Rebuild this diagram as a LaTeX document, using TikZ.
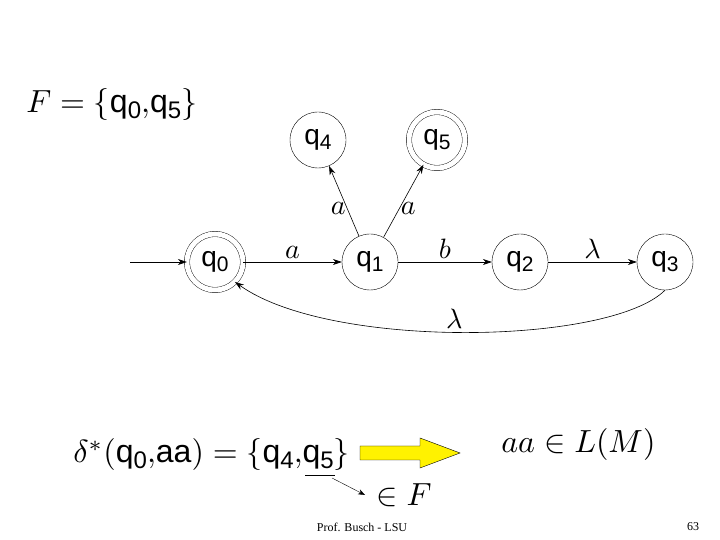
\documentclass[tikz,border=0pt]{standalone}
\usepackage{graphicx}
\usepackage{fontspec}
\setsansfont{Liberation Sans}
\setmainfont{Liberation Serif}
\usetikzlibrary{arrows.meta}
\tikzset{
  state/.style={circle,draw,minimum size=56pt,inner sep=0pt,font=\sffamily\fontsize{28}{28}\selectfont},
  accept/.style={state,double,double distance=5pt},
  trans/.style={-{Stealth[length=9pt,width=6pt]},semithick},
  big/.style={scale=3.2,transform shape}
}
\newcommand{\qs}[1]{\textsf{q}\raisebox{-0.18em}{\scalebox{0.75}{\textsf{#1}}}}
\newcommand{\lab}[1]{\scalebox{2.8}{$\mathbf{#1}$}}
\begin{document}
\begin{tikzpicture}[x=1pt,y=1pt]
  \useasboundingbox (0,0) rectangle (720,540);

  % states
  \node[accept] (q0) at (215,278) {\qs{0}};
  \node[state] (q1) at (370,278) {\qs{1}};
  \node[state] (q2) at (520,278) {\qs{2}};
  \node[state] (q3) at (665,278) {\qs{3}};
  \node[state] (q4) at (318,400) {\qs{4}};
  \node[accept] (q5) at (437,400) {\qs{5}};
  \coordinate (start) at (130,278);

  % transitions
  \draw[trans] (start) -- (q0);
  \draw[trans] (q0) -- node[above] {\scalebox{2.8}{$a$}} (q1);
  \draw[trans] (q1) -- node[above] {\scalebox{2.8}{$b$}} (q2);
  \draw[trans] (q2) -- node[above] {\scalebox{2.8}{$\lambda$}} (q3);
  \draw[trans] (q1) -- node[pos=0.4,left,inner sep=1pt] {\scalebox{2.8}{$a$}} (q4);
  \draw[trans] (q1) -- node[pos=0.4,right,inner sep=1pt] {\scalebox{2.8}{$a$}} (q5);
  \draw[trans] (q3.south) .. controls (610,195) and (330,190) .. node[pos=0.52,above] {\scalebox{2.8}{$\lambda$}} (q0.south east);

  % texts
  \node[big,anchor=west] (fset) at (15,435) {$F=\{$\qs{0}$,$\qs{5}$\}$};
  \node[big,anchor=west] (delta) at (62,85) {$\delta^*($\qs{0}$,$\textsf{aa}$)=\{$\qs{4}$,$\qs{5}$\}$};
  \node[big,anchor=west] (inl) at (490,95) {$aa\in L(M)$};
  \node[big,anchor=west] (inf) at (365,45) {$\in F$};
  \draw (305,65) -- (335,65);
  \draw[-{Stealth[length=7pt]}] (332,62) -- (inf.west);
  \draw[fill=yellow] (360,80) -- (420,80) -- (420,72) -- (460,87) -- (420,102) -- (420,94) -- (360,94) -- cycle;
  \node[font=\fontsize{12}{12}\selectfont] (foot) at (362,13) {Prof. Busch - LSU};
  \node[font=\fontsize{12}{12}\selectfont] (page) at (693,13) {63};
\end{tikzpicture}
\end{document}
